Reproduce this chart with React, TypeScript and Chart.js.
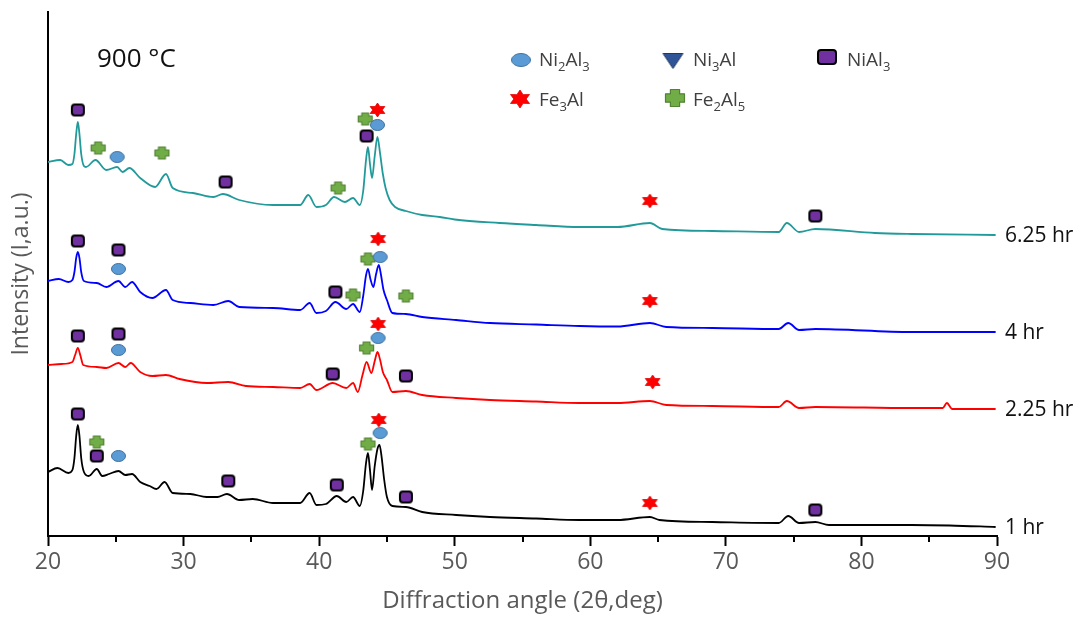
import React, { useEffect, useRef } from 'react';
import { Chart, registerables } from 'chart.js';

Chart.register(...registerables);

const WIDTH = 1089;
const HEIGHT = 617;
const FONT = '"Open Sans", "Noto Sans", sans-serif';

// XRD patterns at 900 °C, stacked with a vertical offset (intensity in a.u.)
const angles1h = [20.0, 20.7, 21.5, 21.8, 21.95, 22.08, 22.2, 22.32, 22.45, 22.65, 23.0, 23.6, 24.0, 24.5, 25.2, 25.7, 26.2, 26.8, 27.5, 28.0, 28.6, 29.2, 30.5, 31.7, 32.5, 33.2, 34.1, 35.1, 36.6, 38.6, 39.3, 39.8, 40.5, 41.3, 42.0, 42.5, 43.0, 43.25, 43.45, 43.6, 43.75, 43.9, 44.1, 44.3, 44.45, 44.6, 44.8, 45.0, 45.4, 46.4, 47.6, 50.1, 52.6, 56.0, 59.2, 62.0, 64.4, 65.1, 69.0, 73.9, 74.6, 75.4, 76.6, 77.6, 83.7, 86.5, 89.9];
const intensity1h = [64, 68, 63, 66, 78, 100, 111, 100, 78, 64, 60, 67, 60, 62, 65, 61, 62, 54, 50, 47, 54, 43, 42, 39, 39, 42, 36, 37, 33, 33, 43, 31, 32, 40, 34, 39, 30, 45, 72, 83, 66, 46, 70, 87, 91, 80, 56, 39, 30, 29, 24, 21, 19, 17.5, 16, 16, 19, 16, 14, 13, 20, 13, 14, 11, 11, 10.5, 9];

const angles225h = [20.0, 21.0, 21.8, 22.0, 22.2, 22.4, 22.6, 23.6, 24.3, 25.2, 25.7, 26.1, 26.8, 27.7, 28.7, 29.7, 31.7, 33.3, 34.6, 36.6, 38.6, 39.3, 39.8, 41.0, 42.0, 42.5, 42.85, 43.2, 43.5, 43.85, 44.1, 44.3, 44.5, 44.7, 45.0, 45.4, 46.4, 47.6, 50.1, 52.6, 56.0, 59.2, 62.0, 64.4, 65.6, 69.0, 73.9, 74.5, 75.4, 76.6, 83.7, 86.0, 86.3, 86.7, 89.9];
const intensity225h = [171, 172, 174, 181, 188, 180, 171, 169, 168, 173, 169, 173, 164, 160, 161, 157, 153, 154, 150, 149, 148, 152, 146, 153, 148, 153, 144, 161, 174, 163, 175, 184, 176, 164, 156, 144, 145, 141, 138, 136, 134.5, 133, 133, 135, 131, 130, 129, 135, 128, 129, 128, 128, 133, 127, 127];

const angles4h = [20.0, 20.8, 21.5, 21.8, 21.95, 22.08, 22.2, 22.32, 22.45, 22.65, 23.6, 24.3, 25.2, 25.7, 26.2, 26.8, 27.7, 28.7, 29.2, 30.5, 32.2, 33.3, 34.1, 36.6, 38.6, 39.3, 39.8, 40.5, 41.2, 42.0, 42.5, 43.0, 43.25, 43.45, 43.6, 43.8, 44.0, 44.2, 44.4, 44.55, 44.75, 45.0, 45.4, 46.4, 47.6, 50.1, 52.6, 56.0, 59.2, 62.0, 64.4, 65.6, 69.0, 73.9, 74.6, 75.4, 76.6, 83.7, 89.9];
const intensity4h = [255, 257, 254, 256, 264, 278, 284, 278, 264, 255, 253, 249, 255, 249, 254, 244, 238, 246, 236, 233, 231, 235, 229, 228, 226, 233, 223, 225, 234, 227, 232, 224, 240, 260, 267, 256, 249, 262, 271, 262, 246, 236, 223, 222, 219, 216, 213, 211.5, 210, 209.5, 213, 209, 208, 207, 213, 206, 207, 204, 204];

const angles625h = [20.0, 20.9, 21.5, 21.8, 21.95, 22.08, 22.2, 22.32, 22.45, 22.65, 22.8, 23.5, 24.3, 25.1, 25.5, 26.0, 26.8, 27.9, 28.7, 29.2, 30.7, 32.2, 32.9, 34.1, 36.6, 38.6, 39.2, 39.8, 40.5, 41.1, 41.9, 42.5, 43.0, 43.25, 43.45, 43.6, 43.75, 43.9, 44.1, 44.3, 44.5, 44.7, 44.9, 45.2, 45.6, 46.4, 47.6, 48.9, 50.0, 53.3, 56.0, 59.2, 62.0, 64.4, 65.3, 69.0, 73.9, 74.5, 75.4, 76.6, 81.0, 83.7, 89.9];
const intensity625h = [374, 376, 371, 372, 382, 402, 414, 402, 382, 370, 369, 376, 366, 369, 364, 368, 358, 349, 362, 348, 343, 339, 342, 336, 331, 331, 341, 329, 331, 339, 334, 338, 331, 345, 375, 389, 372, 358, 380, 399, 382, 362, 348, 336, 329, 325, 321, 319, 316.5, 313, 311, 309, 309, 313, 307, 305, 304, 313, 304, 307, 303, 302, 301];

const seriesLabels = ['6.25 hr', '4 hr', '2.25 hr', '1 hr'];
const seriesColors = ['#239a9a', '#0000ff', '#ff0000', '#000000'];

// Phase identification marks (2θ, height of the mark above each pattern)
const niAl3Angles = [22.2, 33.1, 43.5, 76.6, 22.2, 25.2, 41.2, 22.2, 25.2, 41.0, 46.4, 22.2, 23.6, 33.3, 41.3, 46.4, 76.6];
const niAl3Marks = [426, 354, 400, 320, 295, 286, 244, 200, 202, 162, 160, 122, 80, 55, 51, 39, 26];
const ni2Al3Angles = [25.1, 44.3, 25.2, 44.5, 25.2, 44.35, 25.2, 44.5];
const ni2Al3Marks = [379, 411, 267, 279, 186, 198, 80, 103];
const fe2Al5Angles = [23.7, 28.4, 41.4, 43.4, 42.5, 43.6, 46.4, 43.5, 23.6, 43.6];
const fe2Al5Marks = [388, 383, 348, 417, 241, 277, 240, 188, 94, 92];
const fe3AlAngles = [44.3, 64.4, 44.35, 64.4, 44.35, 64.6, 44.4, 64.4];
const fe3AlMarks = [426, 335, 297, 235, 212, 154, 116, 33];

const legendPhases = ['Ni2Al3', 'Ni3Al', 'NiAl3', 'Fe3Al', 'Fe2Al5'];
const majorTicks = [20, 30, 40, 50, 60, 70, 80, 90];
const minorTicks = [25, 35, 45, 55, 65, 75, 85];

type Kind = 'ellipse' | 'triangle' | 'square' | 'star' | 'cross';

function makeMarker(kind: Kind, w: number, h: number): HTMLCanvasElement {
  const pad = 2;
  const c = document.createElement('canvas');
  c.width = w + pad * 2;
  c.height = h + pad * 2;
  const g = c.getContext('2d')!;
  g.translate(pad, pad);
  g.lineJoin = 'round';
  g.beginPath();
  if (kind === 'ellipse') {
    g.ellipse(w / 2, h / 2, w / 2 - 0.5, h / 2 - 0.5, 0, 0, Math.PI * 2);
    g.fillStyle = '#5b9bd5';
    g.fill();
    g.strokeStyle = '#41719c';
    g.lineWidth = 1;
    g.stroke();
  } else if (kind === 'square') {
    g.roundRect(1, 1, w - 2, h - 2, 3);
    g.fillStyle = '#7030a0';
    g.fill();
    g.strokeStyle = '#000000';
    g.lineWidth = 2;
    g.stroke();
  } else if (kind === 'triangle') {
    g.moveTo(0.5, 0.5);
    g.lineTo(w - 0.5, 0.5);
    g.lineTo(w / 2, h - 0.5);
    g.closePath();
    g.fillStyle = '#2f5597';
    g.fill();
    g.strokeStyle = '#203864';
    g.lineWidth = 1;
    g.stroke();
  } else if (kind === 'star') {
    const cx = w / 2;
    const cy = h / 2;
    for (let i = 0; i < 12; i++) {
      const a = -Math.PI / 2 + (i * Math.PI) / 6;
      const f = i % 2 === 0 ? 1 : 0.56;
      const px = cx + f * (w / 2) * Math.cos(a);
      const py = cy + f * (h / 2) * Math.sin(a);
      if (i === 0) g.moveTo(px, py);
      else g.lineTo(px, py);
    }
    g.closePath();
    g.fillStyle = '#ff0000';
    g.fill();
    g.strokeStyle = '#e00000';
    g.lineWidth = 0.8;
    g.stroke();
  } else {
    const a = w * 0.27;
    const b = h * 0.27;
    const pts = [
      [a, 0.5], [w - a, 0.5], [w - a, b], [w - 0.5, b], [w - 0.5, h - b], [w - a, h - b],
      [w - a, h - 0.5], [a, h - 0.5], [a, h - b], [0.5, h - b], [0.5, b], [a, b],
    ];
    pts.forEach(([px, py], i) => (i === 0 ? g.moveTo(px, py) : g.lineTo(px, py)));
    g.closePath();
    g.fillStyle = '#70ad47';
    g.fill();
    g.strokeStyle = '#548235';
    g.lineWidth = 1.2;
    g.stroke();
  }
  return c;
}

function drawFormula(ctx: CanvasRenderingContext2D, formula: string, x: number, y: number, size: number) {
  let cx = x;
  for (const part of formula.split(/(\d+)/).filter(Boolean)) {
    const sub = /^\d+$/.test(part);
    ctx.font = `${sub ? Math.round(size * 0.68) : size}px ${FONT}`;
    ctx.fillText(part, cx, sub ? y + size * 0.25 : y);
    cx += ctx.measureText(part).width;
  }
}

function toPoints(xs: number[], ys: number[]) {
  return xs.map((x, i) => ({ x, y: ys[i] }));
}

export default function App() {
  const canvasRef = useRef<HTMLCanvasElement | null>(null);

  useEffect(() => {
    const canvas = canvasRef.current;
    if (!canvas) return;

    const chartMarks = {
      ellipse: makeMarker('ellipse', 15, 12),
      square: makeMarker('square', 14, 13),
      star: makeMarker('star', 17, 14),
      cross: makeMarker('cross', 15, 13),
    };
    const legendMarks: Record<string, HTMLCanvasElement> = {
      Ni2Al3: makeMarker('ellipse', 20, 14),
      Ni3Al: makeMarker('triangle', 21, 16),
      NiAl3: makeMarker('square', 20, 16),
      Fe3Al: makeMarker('star', 22, 18),
      Fe2Al5: makeMarker('cross', 20, 18),
    };
    const legendSpots: Record<string, [number, number, number, number]> = {
      Ni2Al3: [521, 60, 539, 66],
      Ni3Al: [673, 61, 693, 66],
      NiAl3: [827, 57, 847, 66],
      Fe3Al: [520, 99, 539, 106],
      Fe2Al5: [675, 98, 693, 106],
    };

    const series = [
      { angles: angles625h, values: intensity625h },
      { angles: angles4h, values: intensity4h },
      { angles: angles225h, values: intensity225h },
      { angles: angles1h, values: intensity1h },
    ];

    const overlay = {
      id: 'overlay',
      afterDraw(chart: any) {
        const ctx: CanvasRenderingContext2D = chart.ctx;
        const xs = chart.scales.x;
        const ys = chart.scales.y;
        const area = chart.chartArea;
        ctx.save();

        ctx.strokeStyle = '#000';
        ctx.lineWidth = 2;
        for (const v of minorTicks) {
          const px = Math.round(xs.getPixelForValue(v));
          ctx.beginPath();
          ctx.moveTo(px, area.bottom);
          ctx.lineTo(px, area.bottom + 6);
          ctx.stroke();
        }

        ctx.fillStyle = '#111';
        ctx.textBaseline = 'alphabetic';
        ctx.font = `26px ${FONT}`;
        ctx.fillText('900 °C', 97, 67);

        ctx.textBaseline = 'middle';
        ctx.font = `21px ${FONT}`;
        series.forEach((s, i) => {
          const last = s.values[s.values.length - 1];
          ctx.fillText(seriesLabels[i], area.right + 8, ys.getPixelForValue(last) + 1);
        });

        ctx.textBaseline = 'alphabetic';
        ctx.fillStyle = '#404040';
        for (const phase of legendPhases) {
          const m = legendMarks[phase];
          const [mx, my, tx, ty] = legendSpots[phase];
          ctx.drawImage(m, mx - m.width / 2, my - m.height / 2);
          drawFormula(ctx, phase, tx, ty, 19);
        }
        ctx.restore();
      },
    };

    const lineSets = series.map((s, i) => ({
      type: 'line' as const,
      label: seriesLabels[i],
      data: toPoints(s.angles, s.values),
      borderColor: seriesColors[i],
      borderWidth: 1.8,
      pointRadius: 0,
      cubicInterpolationMode: 'monotone' as const,
      fill: false,
      order: 2,
    }));

    const markSet = (label: string, xs: number[], ys: number[], style: HTMLCanvasElement) => ({
      type: 'scatter' as const,
      label,
      data: toPoints(xs, ys),
      pointStyle: style,
      pointRadius: 6,
      order: 1,
    });

    const chart = new Chart(canvas, {
      type: 'line',
      data: {
        datasets: [
          ...lineSets,
          markSet('NiAl3', niAl3Angles, niAl3Marks, chartMarks.square),
          markSet('Ni2Al3', ni2Al3Angles, ni2Al3Marks, chartMarks.ellipse),
          markSet('Fe2Al5', fe2Al5Angles, fe2Al5Marks, chartMarks.cross),
          markSet('Fe3Al', fe3AlAngles, fe3AlMarks, chartMarks.star),
        ] as any,
      },
      options: {
        responsive: false,
        animation: false,
        events: [],
        layout: { padding: { left: 0, top: 12, right: 92, bottom: 0 } },
        plugins: { legend: { display: false }, tooltip: { enabled: false }, title: { display: false } },
        scales: {
          x: {
            type: 'linear',
            min: 20,
            max: 90,
            afterBuildTicks: (scale: any) => {
              scale.ticks = majorTicks.map((v) => ({ value: v }));
            },
            afterFit: (scale: any) => {
              scale.height = 81;
            },
            ticks: { color: '#595959', font: { family: FONT, size: 23 }, padding: 3, maxRotation: 0 },
            grid: { drawOnChartArea: false, drawTicks: true, tickLength: 10, tickColor: '#000', tickWidth: 2 },
            border: { display: true, color: '#000', width: 2 },
            title: {
              display: true,
              text: 'Diffraction angle (2θ,deg)',
              color: '#595959',
              font: { family: FONT, size: 24 },
              padding: { top: 0, bottom: 1 },
            },
          },
          y: {
            type: 'linear',
            min: 0,
            max: 524,
            afterFit: (scale: any) => {
              scale.width = 48;
            },
            ticks: { display: false },
            grid: { display: false, drawTicks: false },
            border: { display: true, color: '#000', width: 2 },
            title: {
              display: true,
              text: 'Intensity (I,a.u.)',
              color: '#595959',
              font: { family: FONT, size: 23 },
              padding: { top: 8, bottom: 0 },
            },
          },
        },
      },
      plugins: [overlay],
    });

    return () => chart.destroy();
  }, []);

  return (
    <div style={{ position: 'absolute', left: 0, top: 0, width: WIDTH, height: HEIGHT, background: '#fff' }}>
      <canvas ref={canvasRef} width={WIDTH} height={HEIGHT} style={{ display: 'block' }} />
    </div>
  );
}
